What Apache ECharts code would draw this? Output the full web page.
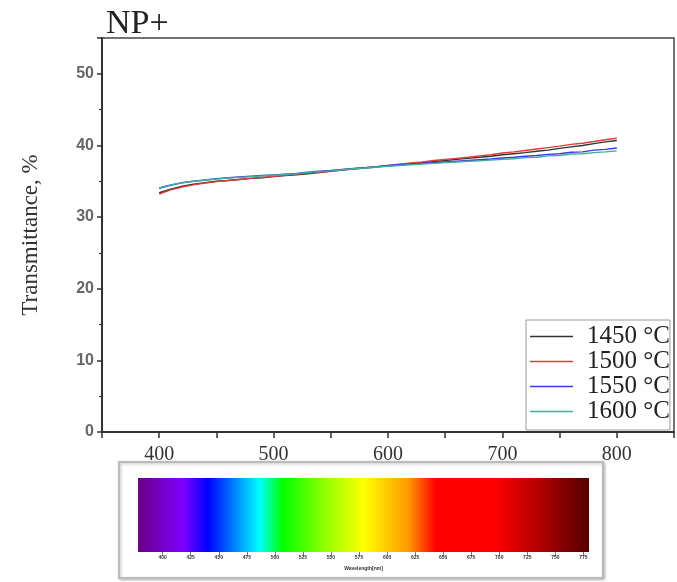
<!DOCTYPE html>
<html>
<head>
<meta charset="utf-8">
<script src="https://cdn.jsdelivr.net/npm/echarts@6/dist/echarts.min.js"></script>
<style>
  html, body { margin: 0; padding: 0; background: #fff; }
  #chart { width: 677px; height: 582px; }
</style>
</head>
<body>
<div id="chart"></div>
<script>
// wavelength, nm
var wavelength = [400, 410, 420, 430, 440, 450, 460, 470, 480, 490, 500, 510, 520, 530, 540, 550, 560, 570, 580, 590,
  600, 610, 620, 630, 640, 650, 660, 670, 680, 690, 700, 710, 720, 730, 740, 750, 760, 770, 780, 790, 800];
var seriesNames = ["1450 °C", "1500 °C", "1550 °C", "1600 °C"];
var t1450 = [33.4, 33.9, 34.3, 34.6, 34.8, 35.0, 35.1, 35.25, 35.4, 35.5, 35.65, 35.8, 35.9, 36.05, 36.2, 36.4, 36.55, 36.7, 36.85, 37.0,
  37.15, 37.3, 37.45, 37.6, 37.75, 37.9, 38.05, 38.2, 38.35, 38.5, 38.7, 38.85, 39.0, 39.2, 39.35, 39.6, 39.8, 40.0, 40.25, 40.5, 40.7];
var t1500 = [33.2, 33.8, 34.2, 34.5, 34.75, 34.95, 35.1, 35.25, 35.4, 35.55, 35.7, 35.85, 36.0, 36.15, 36.3, 36.45, 36.6, 36.75, 36.9, 37.05,
  37.2, 37.4, 37.55, 37.7, 37.9, 38.05, 38.2, 38.35, 38.55, 38.7, 38.95, 39.1, 39.3, 39.5, 39.7, 39.9, 40.15, 40.3, 40.55, 40.8, 41.0];
var t1550 = [34.0, 34.45, 34.8, 35.0, 35.2, 35.35, 35.5, 35.6, 35.7, 35.8, 35.9, 36.0, 36.1, 36.25, 36.4, 36.5, 36.65, 36.8, 36.9, 37.05,
  37.2, 37.3, 37.4, 37.5, 37.6, 37.7, 37.8, 37.9, 38.0, 38.1, 38.25, 38.35, 38.5, 38.6, 38.75, 38.85, 39.05, 39.1, 39.35, 39.45, 39.65];
var t1600 = [34.1, 34.5, 34.8, 35.0, 35.15, 35.3, 35.45, 35.55, 35.65, 35.75, 35.85, 35.95, 36.05, 36.2, 36.35, 36.45, 36.6, 36.75, 36.85, 37.0,
  37.1, 37.2, 37.3, 37.4, 37.5, 37.6, 37.7, 37.8, 37.85, 37.95, 38.05, 38.15, 38.3, 38.35, 38.55, 38.6, 38.8, 38.85, 39.0, 39.1, 39.25];
var lineColors = ["#333333", "#e03a3a", "#3a3ae6", "#3fae9c"];
// spectrum strip tick labels
var spectrumTicks = [400, 425, 450, 475, 500, 525, 550, 575, 600, 625, 650, 675, 700, 725, 750, 775];

var myChart = echarts.init(document.getElementById("chart"));

function pairs(ys) {
  return wavelength.map(function (x, i) { return [x, ys[i]]; });
}
var allValues = [t1450, t1500, t1550, t1600];
var series = allValues.map(function (ys, i) {
  return {
    name: seriesNames[i],
    type: "line",
    xAxisIndex: 0,
    yAxisIndex: 0,
    data: pairs(ys),
    showSymbol: false,
    symbol: "none",
    lineStyle: { color: lineColors[i], width: 1.4 },
    itemStyle: { color: lineColors[i] }
  };
});

var serif = "'Liberation Serif', 'DejaVu Serif', serif";

myChart.setOption({
  animation: false,
  title: {
    text: "NP+",
    left: 101,
    top: 2,
    textStyle: { fontFamily: serif, fontSize: 34, fontWeight: "normal", color: "#222" }
  },
  legend: {
    data: seriesNames,
    orient: "vertical",
    left: 526,
    top: 320,
    icon: "rect",
    itemWidth: 43,
    itemHeight: 1.5,
    itemGap: 0,
    padding: [4, 0, 6, 4],
    borderColor: "#999",
    borderWidth: 1,
    backgroundColor: "#fff",
    textStyle: { fontFamily: serif, fontSize: 25, color: "#222", padding: [0, 0, 0, 9] }
  },
  grid: [
    { left: 102, top: 38, right: 1, bottom: 150, show: true, borderColor: "#444", borderWidth: 1.5, z: 0 },
    { left: 138, top: 478, width: 451, height: 74 }
  ],
  xAxis: [
    {
      type: "value",
      gridIndex: 0,
      min: 350,
      max: 850,
      interval: 50,
      splitLine: { show: false },
      axisLine: { lineStyle: { color: "#333", width: 2 } },
      axisTick: { inside: false, length: 6, lineStyle: { color: "#333", width: 1.5 } },
      axisLabel: {
        fontFamily: serif,
        fontSize: 20,
        color: "#333",
        margin: 13,
        formatter: function (v) { return (v % 100 === 0 && v > 350 && v < 850) ? v : ""; }
      }
    },
    {
      type: "value",
      gridIndex: 1,
      min: 378,
      max: 780,
      splitLine: { show: false },
      axisLine: { show: false },
      axisTick: { customValues: spectrumTicks, length: 4, lineStyle: { color: "#555", width: 0.8 } },
      axisLabel: { customValues: spectrumTicks, fontSize: 5, color: "#333", margin: 3, fontWeight: "bold" },
      name: "Wavelength[nm]",
      nameLocation: "middle",
      nameGap: 14,
      nameTextStyle: { fontSize: 5, color: "#333", fontWeight: "bold" }
    }
  ],
  yAxis: [
    {
      type: "value",
      gridIndex: 0,
      min: 0,
      max: 55,
      interval: 10,
      splitLine: { show: false },
      axisLine: { lineStyle: { color: "#333", width: 2 } },
      axisTick: { length: 5, lineStyle: { color: "#333", width: 1.5 } },
      minorTick: { show: true, splitNumber: 2, length: 3, lineStyle: { color: "#333", width: 1.2 } },
      axisLabel: {
        fontFamily: "'Liberation Sans', Arial, sans-serif",
        fontSize: 16,
        fontWeight: "bold",
        color: "#666",
        margin: 8,
        formatter: function (v) { return v <= 50 ? v : ""; }
      },
      name: "Transmittance, %",
      nameLocation: "middle",
      nameGap: 60,
      nameTextStyle: { fontFamily: serif, fontSize: 23, color: "#333" }
    },
    {
      type: "value",
      gridIndex: 1,
      show: false,
      min: 0,
      max: 1
    }
  ],
  graphic: [
    {
      type: "rect",
      z: -1,
      shape: { x: 119, y: 462, width: 484, height: 116 },
      style: {
        fill: "#fff",
        stroke: "#bbb",
        lineWidth: 2,
        shadowBlur: 3,
        shadowColor: "rgba(0,0,0,0.25)",
        shadowOffsetX: 1,
        shadowOffsetY: 1
      }
    },
    {
      type: "rect",
      z: 0,
      shape: { x: 138, y: 478, width: 451, height: 74 },
      style: {
        fill: new echarts.graphic.LinearGradient(0, 0, 1, 0, [
          { offset: 0, color: "#6a0085" },
          { offset: 0.1, color: "#8000ff" },
          { offset: 0.155, color: "#0000ff" },
          { offset: 0.27, color: "#00ffff" },
          { offset: 0.32, color: "#00ff00" },
          { offset: 0.42, color: "#99ff00" },
          { offset: 0.5, color: "#ffff00" },
          { offset: 0.6, color: "#ff9900" },
          { offset: 0.66, color: "#ff0000" },
          { offset: 0.79, color: "#ff0000" },
          { offset: 0.9, color: "#aa0000" },
          { offset: 1, color: "#560000" }
        ])
      }
    }
  ],
  series: series
});
</script>
</body>
</html>
